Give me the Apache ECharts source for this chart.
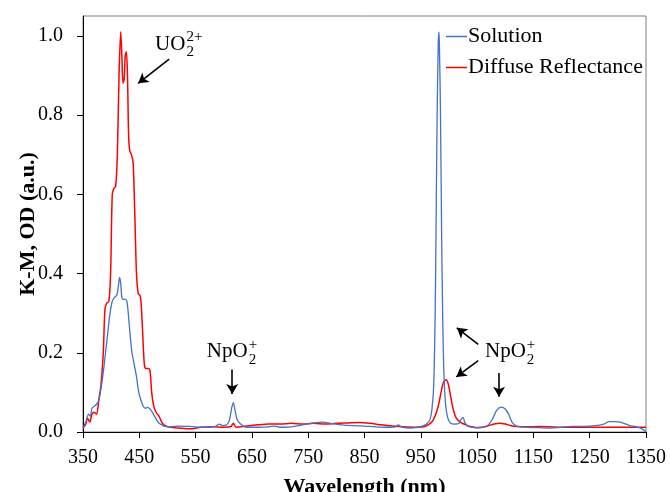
<!DOCTYPE html>
<html>
<head>
<meta charset="utf-8">
<script src="https://cdn.jsdelivr.net/npm/echarts@6/dist/echarts.min.js"></script>
<style>
  html, body { margin: 0; padding: 0; background: #fff; }
  #chart { width: 670px; height: 492px; }
</style>
</head>
<body>
<div id="chart"></div>
<script>
(() => {
    // x axis starts at 350 nm, ticks every 100 nm
    const X0 = 350;
    const xTicks = [350, 450, 550, 650, 750, 850, 950, 1050, 1150, 1250, 1350];
    const yTicks = [0.0, 0.2, 0.4, 0.6, 0.8, 1.0];

    // Solution (blue)
    const solutionX = [
        350, 355, 360, 363, 366, 370, 374, 378, 382, 386, 390, 394, 398, 402, 406, 410, 413, 415, 417, 419,
        422, 425, 428, 431, 434, 437, 441, 445, 449, 453, 457, 461, 465, 469, 473, 477, 481, 485, 490, 495,
        505, 520, 540, 560, 575, 585, 592, 598, 605, 610, 614, 617, 620, 624, 630, 640, 660, 680, 690, 700,
        720, 740, 760, 775, 790, 810, 830, 850, 870, 890, 905, 910, 915, 930, 945, 955, 960, 966, 970, 973,
        975.5, 977, 979, 981, 982, 983, 985, 987, 989, 991, 994, 998, 1003, 1010, 1018, 1022, 1025, 1028, 1033, 1045,
        1060, 1070, 1078, 1085, 1093, 1100, 1106, 1112, 1120, 1140, 1160, 1180, 1200, 1220, 1240, 1260, 1275, 1285, 1295, 1305,
        1320, 1335, 1345, 1350
    ];
    const solutionY = [
        0.01, 0.025, 0.045, 0.04, 0.06, 0.065, 0.07, 0.08, 0.11, 0.15, 0.2, 0.25, 0.3, 0.33, 0.34, 0.345, 0.37, 0.39, 0.375, 0.34,
        0.335, 0.335, 0.33, 0.29, 0.24, 0.2, 0.17, 0.14, 0.1, 0.08, 0.065, 0.06, 0.062, 0.058, 0.05, 0.04, 0.03, 0.022, 0.018, 0.014,
        0.013, 0.015, 0.014, 0.012, 0.012, 0.014, 0.02, 0.016, 0.018, 0.03, 0.06, 0.074, 0.055, 0.03, 0.02, 0.012, 0.012, 0.013, 0.015, 0.012,
        0.013, 0.018, 0.023, 0.025, 0.022, 0.018, 0.016, 0.015, 0.013, 0.012, 0.013, 0.018, 0.013, 0.01, 0.012, 0.016, 0.02, 0.03, 0.06, 0.12,
        0.3, 0.5, 0.8, 0.98, 1.01, 0.98, 0.8, 0.5, 0.28, 0.15, 0.07, 0.035, 0.022, 0.02, 0.022, 0.033, 0.037, 0.025, 0.015, 0.011,
        0.012, 0.018, 0.035, 0.055, 0.063, 0.058, 0.045, 0.025, 0.015, 0.012, 0.011, 0.01, 0.012, 0.014, 0.014, 0.016, 0.02, 0.026, 0.026, 0.024,
        0.017, 0.012, 0.006, 0.0
    ];

    // Diffuse Reflectance (red)
    const diffuseX = [
        350, 355, 358, 362, 366, 370, 374, 378, 382, 386, 389, 392, 396, 399, 402, 405, 408, 411, 414, 417,
        419, 421, 423, 425, 427, 429, 431, 433, 436, 439, 442, 445, 448, 451, 453, 456, 459, 462, 466, 469,
        472, 475, 478, 482, 485, 488, 492, 497, 505, 520, 540, 560, 580, 600, 612, 617, 622, 640, 660, 680,
        700, 720, 740, 760, 780, 800, 820, 840, 860, 880, 900, 920, 940, 955, 965, 972, 980, 986, 990, 995,
        999, 1003, 1008, 1013, 1020, 1030, 1040, 1050, 1060, 1070, 1080, 1090, 1100, 1110, 1120, 1140, 1160, 1180, 1200, 1250,
        1300, 1350
    ];
    const diffuseY = [
        0.01, 0.02, 0.035, 0.025, 0.045, 0.05, 0.045, 0.08, 0.12, 0.2, 0.31, 0.325, 0.33, 0.4, 0.6, 0.615, 0.62, 0.7, 0.9, 1.01,
        0.95, 0.88, 0.89, 0.95, 0.96, 0.9, 0.75, 0.71, 0.7, 0.68, 0.55, 0.4, 0.35, 0.345, 0.33, 0.25, 0.17, 0.16, 0.16, 0.155,
        0.1, 0.07, 0.055, 0.045, 0.04, 0.03, 0.02, 0.015, 0.012, 0.01, 0.008, 0.012, 0.013, 0.012, 0.013, 0.022, 0.012, 0.015, 0.018, 0.02,
        0.02, 0.022, 0.02, 0.022, 0.02, 0.022, 0.023, 0.024, 0.022, 0.018, 0.015, 0.013, 0.012, 0.013, 0.02, 0.03, 0.06, 0.1, 0.125, 0.132,
        0.12, 0.09, 0.055, 0.035, 0.025, 0.018, 0.013, 0.011, 0.012, 0.016, 0.02, 0.022, 0.02, 0.016, 0.014, 0.013, 0.014, 0.013, 0.012, 0.012,
        0.012, 0.012
    ];

    // annotation arrows, [from, to] in (nm, value)
    const arrows = [
        [[503, 0.941], [448, 0.880]],
        [[615, 0.158], [615, 0.096]],
        [[1052, 0.221], [1014, 0.263]],
        [[1052, 0.180], [1013, 0.139]],
        [[1089, 0.149], [1089, 0.089]]
    ];
    // annotation labels: [nm, value, base, sup, sub]
    const labels = [
        [478, 0.975, 'UO', '2+', '2'],
        [570, 0.199, 'NpO', '+', '2'],
        [1064, 0.199, 'NpO', '+', '2']
    ];

    const FONT = '"Liberation Serif", "Times New Roman", serif';

    function zip(xs, ys) {
        return xs.map((x, i) => [x - X0, ys[i]]);
    }

    const chart = echarts.init(document.getElementById('chart'), null, { renderer: 'canvas' });

    const option = {
        animation: false,
        backgroundColor: '#fff',
        grid: {
            left: 83, right: 24, top: 16, bottom: 60,
            outerBoundsMode: 'none', containLabel: false,
            show: true, borderColor: '#7f7f7f', borderWidth: 1
        },
        legend: {
            orient: 'vertical',
            left: 446, top: 25, padding: 0,
            icon: 'rect', itemWidth: 21, itemHeight: 1.5, itemGap: 8,
            textStyle: { fontFamily: FONT, fontSize: 22, lineHeight: 23, color: '#000', padding: [0, 0, 0, -4] },
            data: ['Solution', 'Diffuse Reflectance']
        },
        xAxis: {
            type: 'value',
            min: xTicks[0] - X0, max: xTicks[xTicks.length - 1] - X0, interval: 100,
            name: 'Wavelength (nm)', nameLocation: 'middle', nameGap: 44, nameMoveOverlap: false,
            nameTextStyle: { fontFamily: FONT, fontSize: 22, fontWeight: 'bold', color: '#000' },
            axisLine: { lineStyle: { color: '#000', width: 1 } },
            axisTick: { length: 6, lineStyle: { color: '#000' } },
            axisLabel: { fontFamily: FONT, fontSize: 20, color: '#000', margin: 16, formatter: v => String(v + X0) },
            splitLine: { show: false }
        },
        yAxis: {
            type: 'value',
            min: yTicks[0], max: 1.05, interval: 0.2,
            name: 'K-M, OD (a.u.)', nameLocation: 'middle', nameGap: 44, nameMoveOverlap: false,
            nameTextStyle: { fontFamily: FONT, fontSize: 22, fontWeight: 'bold', color: '#000' },
            axisLine: { show: true, lineStyle: { color: '#000', width: 1 } },
            axisTick: { show: true, length: 6, lineStyle: { color: '#000' } },
            axisLabel: { fontFamily: FONT, fontSize: 20, color: '#000', margin: 20, showMaxLabel: false, formatter: v => v.toFixed(1) },
            splitLine: { show: false }
        },
        series: [
            {
                name: 'Solution', type: 'line', showSymbol: false, smooth: 0.3,
                lineStyle: { color: '#4472C4', width: 1.3 }, itemStyle: { color: '#4472C4' },
                data: zip(solutionX, solutionY), z: 3
            },
            {
                name: 'Diffuse Reflectance', type: 'line', showSymbol: false, smooth: 0.3,
                lineStyle: { color: '#FF0000', width: 1.5 }, itemStyle: { color: '#FF0000' },
                data: zip(diffuseX, diffuseY), z: 2,
                markLine: {
                    silent: true, animation: false,
                    symbol: ['none', 'arrow'], symbolSize: [9, 10],
                    label: { show: false },
                    lineStyle: { color: '#000', width: 1.6, type: 'solid' },
                    data: arrows.map(a => [
                        { coord: [a[0][0] - X0, a[0][1]] },
                        { coord: [a[1][0] - X0, a[1][1]] }
                    ])
                }
            }
        ]
    };
    chart.setOption(option);

    // subscript / superscript labels placed from data positions
    const graphics = [];
    labels.forEach(([x, y, base, sup, sub]) => {
        const p = chart.convertToPixel({ gridIndex: 0 }, [x - X0, y]);
        const baseFont = '21px ' + FONT;
        const smallFont = '15px ' + FONT;
        const ctx = document.createElement('canvas').getContext('2d');
        ctx.font = baseFont;
        const w = ctx.measureText(base).width;
        graphics.push({
            type: 'text', left: p[0], top: p[1] - 12,
            style: { text: base, font: baseFont, fill: '#000' }, z: 10
        });
        graphics.push({
            type: 'text', left: p[0] + w + 1, top: p[1] - 16,
            style: { text: sup, font: smallFont, fill: '#000' }, z: 10
        });
        graphics.push({
            type: 'text', left: p[0] + w + 1, top: p[1] - 1,
            style: { text: sub, font: smallFont, fill: '#000' }, z: 10
        });
    });
    chart.setOption({ graphic: graphics });
})();
</script>
</body>
</html>
